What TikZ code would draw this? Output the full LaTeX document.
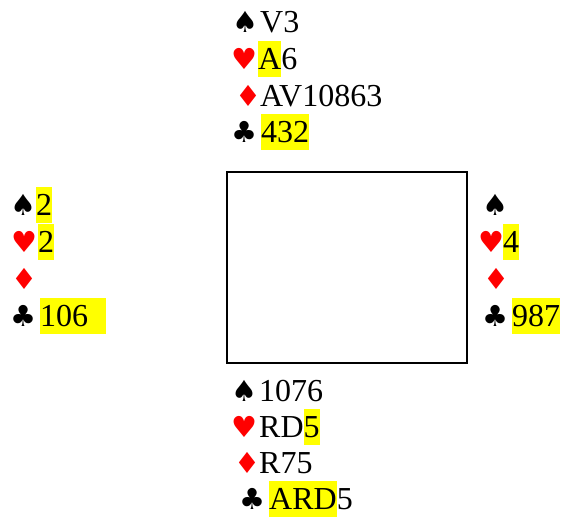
\documentclass[tikz,border=0pt]{standalone}
\usepackage{fontspec}
\setmainfont{Liberation Serif}
\newfontfamily\suitfont{DejaVu Sans}
\definecolor{hlyellow}{RGB}{255,255,0}
\definecolor{suitred}{RGB}{255,0,0}
\newcommand\hl[1]{{\setlength{\fboxsep}{0pt}\colorbox{hlyellow}{\rule[-7pt]{0pt}{36pt}#1}}}
\tikzset{
  cards/.style={anchor=base west, inner sep=0pt, font=\fontsize{32}{36}\selectfont},
  suitsym/.style={anchor=base west, inner sep=0pt, font=\suitfont\fontsize{29}{33}\selectfont},
  blk/.style={suitsym, text=black},
  rd/.style={suitsym, text=suitred},
  table/.style={draw=black, line width=2pt}
}
\begin{document}
\begin{tikzpicture}[x=1pt,y=-1pt]
\useasboundingbox (0,0) rectangle (563,518);
% table
\draw[table] (227,172) rectangle (467,363);
% North
\node[blk] (ns) at (232,33) {♠};
\node[rd]  (nh) at (231,70) {♥};
\node[rd]  (nd) at (235,107) {♦};
\node[blk] (nc) at (231,143) {♣};
\node[cards] (nst) at (260,33) {V3};
\node[cards] (nht) at (258,70) {\hl{A}6};
\node[cards] (ndt) at (260,107) {AV10863};
\node[cards] (nct) at (261,143) {\hl{432}};
% West
\node[blk] (ws) at (10,216) {♠};
\node[rd]  (wh) at (11,253) {♥};
\node[rd]  (wd) at (11,290) {♦};
\node[blk] (wc) at (10,327) {♣};
\node[cards] (wst) at (36,216) {\hl{2}};
\node[cards] (wht) at (38,253) {\hl{2}};
\node[cards] (wct) at (40,327) {\hl{106\hspace{18pt}}};
% East
\node[blk] (es) at (482,216) {♠};
\node[rd]  (eh) at (478,253) {♥};
\node[rd]  (ed) at (483,290) {♦};
\node[blk] (ec) at (482,327) {♣};
\node[cards] (eht) at (503,253) {\hl{4}};
\node[cards] (ect) at (512,327) {\hl{987}};
% South
\node[blk] (ss) at (231,402) {♠};
\node[rd]  (sh) at (231,438) {♥};
\node[rd]  (sd) at (234,474) {♦};
\node[blk] (sc) at (239,510) {♣};
\node[cards] (sst) at (259,402) {1076};
\node[cards] (sht) at (259,438) {RD\hl{5}};
\node[cards] (sdt) at (259,474) {R75};
\node[cards] (sct) at (269,510) {\hl{ARD}5};
\end{tikzpicture}
\end{document}
